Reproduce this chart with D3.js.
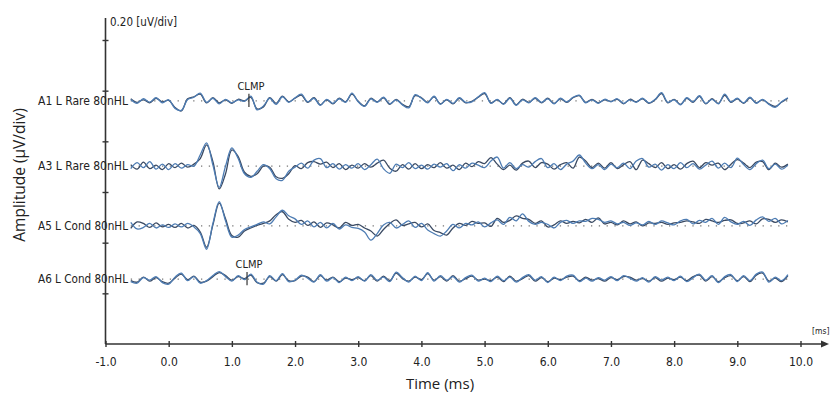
<!DOCTYPE html>
<html>
<head>
<meta charset="utf-8">
<script src="https://cdn.jsdelivr.net/npm/d3@7"></script>
<style>
  body { margin: 0; background: #fff; }
  svg { display: block; }
  .cond { font-family: "DejaVu Sans Condensed", "DejaVu Sans", sans-serif; fill: #222; }
  .sans { font-family: "Open Sans", "Noto Sans", sans-serif; fill: #222; }
</style>
</head>
<body>
<div id="chart"></div>
<script>
// sampling of the traces (ms)
const tStart = -0.6, tStep = 0.1;
const xTicks = [-1, 0, 1, 2, 3, 4, 5, 6, 7, 8, 9, 10];
const rowLabels = ["A1 L Rare 80nHL", "A3 L Rare 80nHL", "A5 L Cond 80nHL", "A6 L Cond 80nHL"];
const clmpTimes = [1.27, null, null, 1.24];

// amplitudes in nV, one value per 0.1 ms from -0.6 ms
const A1a = [5,-10,8,-5,12,-8,
  4,-30,-38,5,14,30,-6,10,-12,6,
  -8,4,-2,18,-36,-20,10,-14,16,-6,
  12,26,-4,10,-18,6,-10,8,-6,30,
  -4,-22,8,-6,14,-12,4,-16,-28,24,
  10,-8,18,-14,6,-10,12,-6,-4,16,
  32,-10,6,-14,10,-18,4,-8,12,-6,
  8,-12,10,-4,14,22,-8,4,-10,6,
  -4,8,-10,4,-6,10,-8,6,32,-6,
  4,-16,12,-4,20,-10,6,-12,26,-4,
  10,-8,14,-10,6,-14,-26,-4,12];
const A1b = [8,-6,4,-8,10,-4,
  2,-26,-40,8,16,26,-8,12,-8,4,
  -10,6,0,14,-32,-24,12,-10,18,-4,
  10,22,-6,12,-16,4,-12,10,-4,26,
  -2,-20,10,-4,12,-14,6,-14,-24,20,
  12,-6,16,-12,4,-12,10,-8,-2,14,
  28,-8,4,-12,12,-16,6,-6,10,-8,
  10,-10,8,-6,12,20,-6,6,-8,4,
  -2,6,-12,6,-4,8,-10,4,28,-8,
  6,-14,10,-6,18,-12,8,-10,22,-6,
  8,-10,12,-8,4,-12,-22,-6,10];
const A3a = [-10,14,-6,18,-12,8,
  -14,10,-8,6,0,45,92,4,-84,0,
  72,30,-30,-44,-20,6,-10,-50,-56,-20,
  -4,12,-8,24,30,-6,10,-12,6,-8,
  10,-14,6,28,-10,-28,8,-6,14,-10,
  4,-12,8,-4,10,-18,6,-8,12,4,
  -6,20,36,-8,14,-10,6,-4,18,30,
  -6,10,-14,8,20,44,12,-10,6,-14,
  8,-6,12,-10,20,30,-4,8,-16,6,
  -10,14,-6,10,-12,4,20,-8,12,-6,
  32,6,-14,10,24,-10,8,-12,4];
const A3b = [6,-12,16,-10,4,-14,
  10,-6,12,-4,8,30,84,18,-90,-30,
  64,38,-24,-40,-30,0,-4,-42,-48,-30,
  2,-10,14,18,8,16,-6,10,-14,4,
  -8,10,-4,12,24,-8,-20,6,-12,10,
  -10,6,-6,14,-8,4,-14,12,-2,18,
  10,34,8,-14,4,-16,12,20,-6,14,
  8,-12,6,14,-8,36,20,-6,12,-8,
  14,-10,6,18,-14,24,10,-6,14,-10,
  6,-12,10,20,-6,14,4,12,-14,8,
  26,12,-6,16,18,-14,12,-4,8];
const A5a = [14,-12,-6,10,-8,4,
  -6,8,-4,10,-4,-30,-92,10,96,20,
  -44,-36,-14,-4,6,16,8,36,62,40,
  28,6,20,-4,14,-8,10,-12,4,-6,
  -10,-24,-56,-30,4,14,-8,6,20,-6,
  10,-16,-30,-40,-20,6,-8,10,4,16,
  -4,12,24,6,34,20,48,18,6,14,
  6,-8,14,22,10,20,18,30,26,14,
  20,8,14,2,12,4,18,6,20,12,
  4,20,26,8,22,14,30,6,34,16,
  6,18,2,24,36,18,30,8,22];
const A5b = [-10,16,10,-6,12,-4,
  6,-6,10,-8,2,-24,-84,4,90,28,
  -38,-44,-20,-8,2,10,20,44,56,26,
  14,22,2,16,-6,12,4,-8,14,2,
  6,-8,-20,-40,-14,10,24,2,8,14,
  -4,8,-18,-26,-36,-8,10,2,18,10,
  12,-2,30,14,22,40,30,26,10,20,
  -4,4,20,10,18,12,26,14,32,8,
  14,4,20,8,16,0,12,10,14,6,
  12,14,20,16,10,26,20,14,22,24,
  10,12,20,8,28,26,14,24,16];
const A6a = [-10,-16,6,-4,10,-14,
  -20,8,24,-6,10,-16,-6,14,30,10,
  -8,14,-2,20,-12,-20,14,-6,22,-10,
  -4,16,4,-12,18,-8,6,-14,8,-6,
  10,-8,18,-4,8,-10,28,6,-12,12,
  -6,26,-8,14,-4,10,-12,6,16,-8,
  4,-10,12,-6,8,-12,6,18,-4,10,
  -14,8,-6,12,16,-10,4,-8,6,-4,
  10,-6,14,4,-8,6,-12,10,-4,8,
  -6,12,-10,6,20,-4,14,-14,10,18,
  -10,14,-6,20,28,-12,8,-6,18];
const A6b = [-6,-12,8,-8,6,-10,
  -16,4,20,-2,12,-12,-8,10,26,14,
  -4,10,2,16,-14,-16,10,-8,18,-6,
  -6,12,8,-10,14,-4,8,-10,4,-2,
  6,-6,14,-8,12,-6,24,2,-8,8,
  -2,22,-4,10,-8,14,-8,2,12,-4,
  0,-6,8,-10,12,-8,2,14,-8,6,
  -10,4,-2,8,12,-6,8,-4,2,-8,
  6,-2,10,8,-4,2,-8,6,-8,4,
  -2,8,-6,10,16,-8,10,-10,6,14,
  -6,10,-10,16,24,-8,4,-10,14];

const tracesA = [A1a, A3a, A5a, A6a];
const tracesB = [A1b, A3b, A5b, A6b];

// layout
const W = 833, H = 403;
const nvPerDiv = 200;              // 0.20 uV/div
const rowBase = [4.80, 3.51, 2.33, 1.28]; // baseline of each row, in divisions

const svg = d3.select("#chart").append("svg").attr("width", W).attr("height", H);

const x = d3.scaleLinear().domain([-1, 10]).range([105.5, 800.5]);
const y = d3.scaleLinear().domain([0, 6]).range([344, 40]);

const times = d3.range(A1a.length).map(i => tStart + i * tStep);
const axisCol = "#333";

// axes
svg.append("line").attr("x1", x(-1)).attr("x2", x(-1)).attr("y1", 18).attr("y2", y(0))
  .attr("stroke", axisCol).attr("stroke-width", 1.6);
svg.append("line").attr("x1", x(-1)).attr("x2", 824).attr("y1", y(0)).attr("y2", y(0))
  .attr("stroke", axisCol).attr("stroke-width", 1.4);
svg.append("path").attr("d", `M829,${y(0)} L821,${y(0) - 3.5} L821,${y(0) + 3.5} Z`).attr("fill", axisCol);

const fmt = d3.format(".1f");
const gx = svg.append("g").attr("transform", `translate(0,${y(0)})`)
  .call(d3.axisBottom(x).tickValues(xTicks).tickFormat(d => fmt(d).replace("−", "-")).tickSize(3).tickPadding(10));
gx.select(".domain").remove();
gx.selectAll(".tick line").attr("y1", -3).attr("stroke", axisCol).attr("stroke-width", 1.4);
gx.selectAll(".tick text").attr("class", "cond").attr("font-size", 12).attr("fill", "#333");

const gy = svg.append("g").attr("transform", `translate(${x(-1)},0)`)
  .call(d3.axisLeft(y).tickValues([1, 2, 3, 4, 5, 6]).tickFormat("").tickSize(3));
gy.select(".domain").remove();
gy.selectAll(".tick line").attr("x1", 3).attr("stroke", axisCol).attr("stroke-width", 1.4);

svg.append("text").attr("class", "cond").attr("x", 110).attr("y", 26)
  .attr("font-size", 11.5).text("0.20 [uV/div]");
svg.append("text").attr("class", "cond").attr("x", 812).attr("y", 334)
  .attr("font-size", 8.5).text("[ms]");
svg.append("text").attr("class", "sans").attr("x", 440).attr("y", 389)
  .attr("text-anchor", "middle").attr("font-size", 15).text("Time (ms)");
svg.append("text").attr("class", "sans")
  .attr("transform", "translate(25,175) rotate(-90)")
  .attr("text-anchor", "middle").attr("font-size", 15.5).text("Amplitude (µV/div)");

// traces
rowLabels.forEach((lab, r) => {
  const yv = v => y(rowBase[r] + v / nvPerDiv);
  const line = d3.line()
    .x((d, i) => x(times[i]))
    .y(d => yv(d))
    .curve(d3.curveCatmullRom.alpha(0.5));

  svg.append("line")
    .attr("x1", x(times[0])).attr("x2", x(times[times.length - 1]))
    .attr("y1", yv(0)).attr("y2", yv(0))
    .attr("stroke", "#777").attr("stroke-width", 1.2)
    .attr("stroke-dasharray", "1.3,6.5");

  svg.append("path").datum(tracesB[r]).attr("d", line)
    .attr("fill", "none").attr("stroke", "#3a4a63").attr("stroke-width", 1.3);
  svg.append("path").datum(tracesA[r]).attr("d", line)
    .attr("fill", "none").attr("stroke", "#4d7cb3").attr("stroke-width", 1.3);

  svg.append("text").attr("class", "cond")
    .attr("x", 38).attr("y", yv(0) + 4)
    .attr("font-size", 12)
    .attr("textLength", 90).attr("lengthAdjust", "spacingAndGlyphs")
    .text(lab);

  if (clmpTimes[r] != null) {
    const cx = x(clmpTimes[r]);
    svg.append("line").attr("x1", cx).attr("x2", cx)
      .attr("y1", yv(28)).attr("y2", yv(-24))
      .attr("stroke", "#333").attr("stroke-width", 1.2);
    svg.append("text").attr("class", "cond")
      .attr("x", cx + 2).attr("y", yv(0) - 11)
      .attr("text-anchor", "middle").attr("font-size", 11).text("CLMP");
  }
});
</script>
</body>
</html>
